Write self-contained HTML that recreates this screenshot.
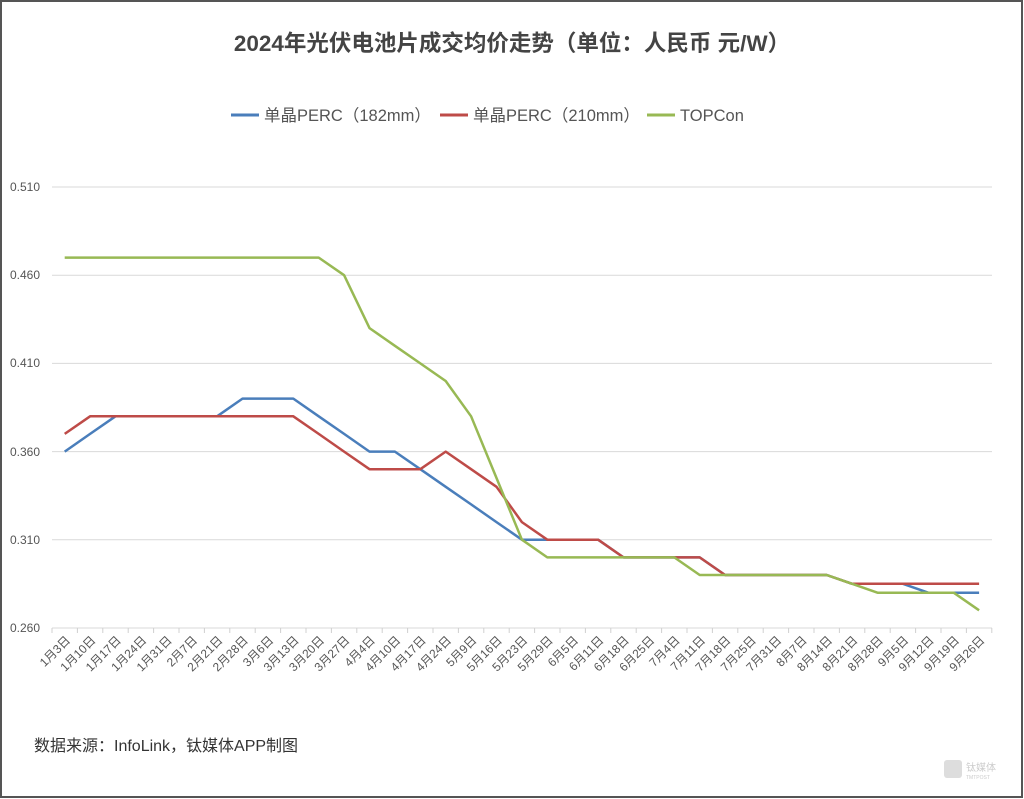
<!DOCTYPE html>
<html><head><meta charset="utf-8"><style>
html,body{margin:0;padding:0;background:#fff}
svg{display:block}
text{font-family:"Liberation Sans","Noto Sans CJK SC",sans-serif}
</style></head><body>
<svg width="1024" height="799" viewBox="0 0 1024 799" xmlns="http://www.w3.org/2000/svg">
<rect x="1" y="1" width="1021" height="796" fill="#fff" stroke="#555" stroke-width="2"/>
<text x="512" y="51" text-anchor="middle" font-size="22.5" font-weight="bold" fill="#444">2024年光伏电池片成交均价走势（单位：人民币 元/W）</text>
<line x1="231" y1="115" x2="259" y2="115" stroke="#4a7ebb" stroke-width="3"/>
<text x="264" y="121" font-size="16.5" fill="#555">单晶PERC（182mm）</text>
<line x1="440" y1="115" x2="468" y2="115" stroke="#be4b48" stroke-width="3"/>
<text x="473" y="121" font-size="16.5" fill="#555">单晶PERC（210mm）</text>
<line x1="647" y1="115" x2="675" y2="115" stroke="#98b954" stroke-width="3"/>
<text x="680" y="121" font-size="16.5" fill="#555">TOPCon</text>
<g stroke="#d9d9d9" stroke-width="1">
<line x1="52" y1="187" x2="992" y2="187"/><line x1="52" y1="275.2" x2="992" y2="275.2"/><line x1="52" y1="363.4" x2="992" y2="363.4"/><line x1="52" y1="451.6" x2="992" y2="451.6"/><line x1="52" y1="539.7" x2="992" y2="539.7"/><line x1="52" y1="628" x2="992" y2="628"/>
</g>
<g font-size="12" fill="#555">
<text x="10" y="191">0.510</text><text x="10" y="279">0.460</text><text x="10" y="367">0.410</text><text x="10" y="456">0.360</text><text x="10" y="544">0.310</text><text x="10" y="632">0.260</text>
</g>
<g stroke="#d0d0d0" stroke-width="1">
<line x1="52" y1="628" x2="52" y2="633"/><line x1="77.4" y1="628" x2="77.4" y2="633"/><line x1="102.8" y1="628" x2="102.8" y2="633"/><line x1="128.2" y1="628" x2="128.2" y2="633"/><line x1="153.6" y1="628" x2="153.6" y2="633"/><line x1="179" y1="628" x2="179" y2="633"/><line x1="204.4" y1="628" x2="204.4" y2="633"/><line x1="229.8" y1="628" x2="229.8" y2="633"/><line x1="255.2" y1="628" x2="255.2" y2="633"/><line x1="280.6" y1="628" x2="280.6" y2="633"/><line x1="306" y1="628" x2="306" y2="633"/><line x1="331.4" y1="628" x2="331.4" y2="633"/><line x1="356.8" y1="628" x2="356.8" y2="633"/><line x1="382.2" y1="628" x2="382.2" y2="633"/><line x1="407.6" y1="628" x2="407.6" y2="633"/><line x1="433" y1="628" x2="433" y2="633"/><line x1="458.4" y1="628" x2="458.4" y2="633"/><line x1="483.8" y1="628" x2="483.8" y2="633"/><line x1="509.2" y1="628" x2="509.2" y2="633"/><line x1="534.6" y1="628" x2="534.6" y2="633"/><line x1="560" y1="628" x2="560" y2="633"/><line x1="585.4" y1="628" x2="585.4" y2="633"/><line x1="610.8" y1="628" x2="610.8" y2="633"/><line x1="636.2" y1="628" x2="636.2" y2="633"/><line x1="661.6" y1="628" x2="661.6" y2="633"/><line x1="687" y1="628" x2="687" y2="633"/><line x1="712.4" y1="628" x2="712.4" y2="633"/><line x1="737.8" y1="628" x2="737.8" y2="633"/><line x1="763.2" y1="628" x2="763.2" y2="633"/><line x1="788.6" y1="628" x2="788.6" y2="633"/><line x1="814" y1="628" x2="814" y2="633"/><line x1="839.4" y1="628" x2="839.4" y2="633"/><line x1="864.8" y1="628" x2="864.8" y2="633"/><line x1="890.2" y1="628" x2="890.2" y2="633"/><line x1="915.6" y1="628" x2="915.6" y2="633"/><line x1="941" y1="628" x2="941" y2="633"/><line x1="966.4" y1="628" x2="966.4" y2="633"/><line x1="991.8" y1="628" x2="991.8" y2="633"/>
</g>
<g font-size="12" fill="#555" text-anchor="end">
<text transform="translate(71,641) rotate(-45)">1月3日</text>
<text transform="translate(96.4,641) rotate(-45)">1月10日</text>
<text transform="translate(121.8,641) rotate(-45)">1月17日</text>
<text transform="translate(147.2,641) rotate(-45)">1月24日</text>
<text transform="translate(172.6,641) rotate(-45)">1月31日</text>
<text transform="translate(198,641) rotate(-45)">2月7日</text>
<text transform="translate(223.4,641) rotate(-45)">2月21日</text>
<text transform="translate(248.8,641) rotate(-45)">2月28日</text>
<text transform="translate(274.2,641) rotate(-45)">3月6日</text>
<text transform="translate(299.6,641) rotate(-45)">3月13日</text>
<text transform="translate(325,641) rotate(-45)">3月20日</text>
<text transform="translate(350.4,641) rotate(-45)">3月27日</text>
<text transform="translate(375.8,641) rotate(-45)">4月4日</text>
<text transform="translate(401.2,641) rotate(-45)">4月10日</text>
<text transform="translate(426.6,641) rotate(-45)">4月17日</text>
<text transform="translate(452,641) rotate(-45)">4月24日</text>
<text transform="translate(477.4,641) rotate(-45)">5月9日</text>
<text transform="translate(502.8,641) rotate(-45)">5月16日</text>
<text transform="translate(528.2,641) rotate(-45)">5月23日</text>
<text transform="translate(553.6,641) rotate(-45)">5月29日</text>
<text transform="translate(579,641) rotate(-45)">6月5日</text>
<text transform="translate(604.4,641) rotate(-45)">6月11日</text>
<text transform="translate(629.8,641) rotate(-45)">6月18日</text>
<text transform="translate(655.2,641) rotate(-45)">6月25日</text>
<text transform="translate(680.6,641) rotate(-45)">7月4日</text>
<text transform="translate(706,641) rotate(-45)">7月11日</text>
<text transform="translate(731.4,641) rotate(-45)">7月18日</text>
<text transform="translate(756.8,641) rotate(-45)">7月25日</text>
<text transform="translate(782.2,641) rotate(-45)">7月31日</text>
<text transform="translate(807.6,641) rotate(-45)">8月7日</text>
<text transform="translate(833,641) rotate(-45)">8月14日</text>
<text transform="translate(858.4,641) rotate(-45)">8月21日</text>
<text transform="translate(883.8,641) rotate(-45)">8月28日</text>
<text transform="translate(909.2,641) rotate(-45)">9月5日</text>
<text transform="translate(934.6,641) rotate(-45)">9月12日</text>
<text transform="translate(960,641) rotate(-45)">9月19日</text>
<text transform="translate(985.4,641) rotate(-45)">9月26日</text>
</g>
<g fill="none" stroke-width="2.5" stroke-linejoin="round">
<polyline stroke="#4a7ebb" points="64.7,451.6 90.1,433.9 115.5,416.3 140.9,416.3 166.3,416.3 191.7,416.3 217.1,416.3 242.5,398.6 267.9,398.6 293.3,398.6 318.7,416.3 344.1,433.9 369.5,451.6 394.9,451.6 420.3,469.2 445.7,486.8 471.1,504.4 496.5,522.1 521.9,539.7 547.3,539.7 572.7,539.7 598.1,539.7 623.5,557.4 648.9,557.4 674.3,557.4 699.7,557.4 725.1,575 750.5,575 775.9,575 801.3,575 826.7,575 852.1,583.8 877.5,583.8 902.9,583.8 928.3,592.7 953.7,592.7 979.1,592.7"/>
<polyline stroke="#be4b48" points="64.7,433.9 90.1,416.3 115.5,416.3 140.9,416.3 166.3,416.3 191.7,416.3 217.1,416.3 242.5,416.3 267.9,416.3 293.3,416.3 318.7,433.9 344.1,451.6 369.5,469.2 394.9,469.2 420.3,469.2 445.7,451.6 471.1,469.2 496.5,486.8 521.9,522.1 547.3,539.7 572.7,539.7 598.1,539.7 623.5,557.4 648.9,557.4 674.3,557.4 699.7,557.4 725.1,575 750.5,575 775.9,575 801.3,575 826.7,575 852.1,583.8 877.5,583.8 902.9,583.8 928.3,583.8 953.7,583.8 979.1,583.8"/>
<polyline stroke="#98b954" points="64.7,257.6 90.1,257.6 115.5,257.6 140.9,257.6 166.3,257.6 191.7,257.6 217.1,257.6 242.5,257.6 267.9,257.6 293.3,257.6 318.7,257.6 344.1,275.2 369.5,328.1 394.9,345.8 420.3,363.4 445.7,381 471.1,416.3 496.5,478 521.9,539.7 547.3,557.4 572.7,557.4 598.1,557.4 623.5,557.4 648.9,557.4 674.3,557.4 699.7,575 725.1,575 750.5,575 775.9,575 801.3,575 826.7,575 852.1,583.8 877.5,592.7 902.9,592.7 928.3,592.7 953.7,592.7 979.1,610.3"/>
</g>
<text x="34" y="751" font-size="16" fill="#333">数据来源：InfoLink，钛媒体APP制图</text>
<rect x="944" y="760" width="18" height="18" rx="3" fill="#ddd"/>
<text x="966" y="771" font-size="10" fill="#ccc">钛媒体</text>
<text x="966" y="779" font-size="5" fill="#ccc">TMTPOST</text>
</svg>
</body></html>
